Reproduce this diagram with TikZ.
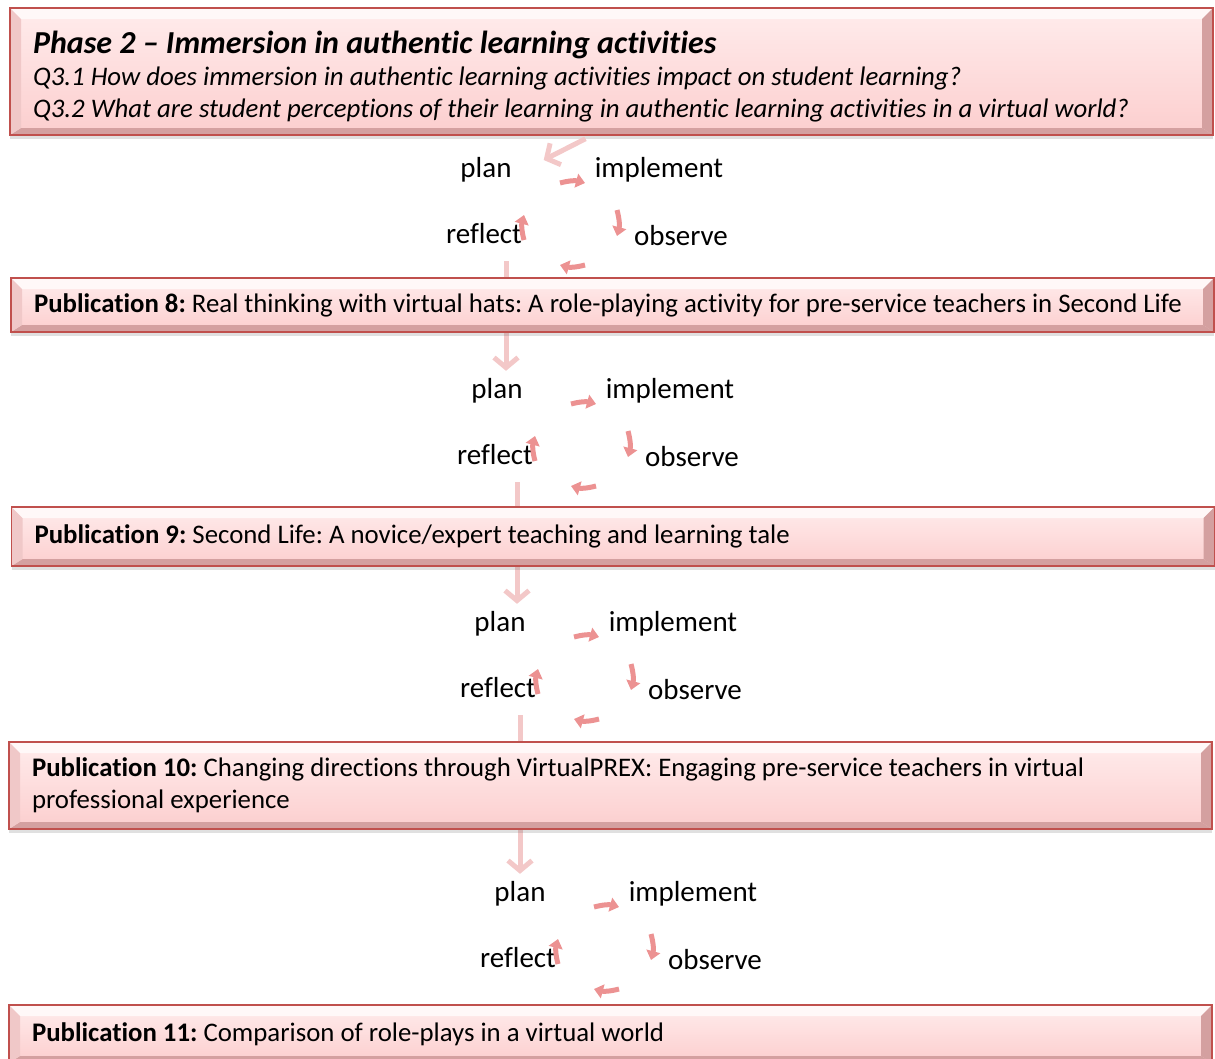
\documentclass[tikz,border=0pt]{standalone}
\usepackage{fontspec}
\setmainfont{Carlito}[Ligatures={TeX,NoCommon}]
\usetikzlibrary{arrows.meta,shadows,positioning}
\pgfdeclarelayer{bg}
\pgfsetlayers{bg,main}
\frenchspacing

\definecolor{boxred}{RGB}{192,80,77}
\definecolor{boxtop}{RGB}{255,236,236}
\definecolor{boxbot}{RGB}{252,206,206}
\definecolor{bevlight}{RGB}{255,248,248}
\definecolor{bevside}{RGB}{240,200,200}
\definecolor{bevdark}{RGB}{212,160,160}
\definecolor{flowpink}{RGB}{243,200,200}
\definecolor{cycpink}{RGB}{236,146,146}

\tikzset{
    pubbox/.style={draw=boxred, line width=1.5pt, top color=boxtop, bottom color=boxbot,
        text width=1157pt, inner xsep=23pt, align=flush left, font=\fontsize{26.8}{32}\selectfont,
        drop shadow={shadow xshift=0pt, shadow yshift=-4pt, opacity=.2, fill=black!60},
        path picture={
            \path (path picture bounding box.north west) coordinate (bnw)
                  (path picture bounding box.north east) coordinate (bne)
                  (path picture bounding box.south west) coordinate (bsw)
                  (path picture bounding box.south east) coordinate (bse);
            \fill[bevlight] (bnw) -- (bne) -- ([shift={(-11pt,-11pt)}]bne) -- ([shift={(11pt,-11pt)}]bnw) -- cycle;
            \fill[bevdark] (bsw) -- (bse) -- ([shift={(-11pt,7pt)}]bse) -- ([shift={(11pt,7pt)}]bsw) -- cycle;
            \fill[bevside] (bnw) -- ([shift={(11pt,-11pt)}]bnw) -- ([shift={(11pt,7pt)}]bsw) -- (bsw) -- cycle;
            \fill[bevdark] (bne) -- ([shift={(-11pt,-11pt)}]bne) -- ([shift={(-11pt,7pt)}]bse) -- (bse) -- cycle;
        }},
    cyclabel/.style={font=\fontsize{29}{34}\selectfont, inner sep=0pt, text height=20pt, text depth=6pt},
    cycarrow/.style={draw=cycpink, line width=5pt, -{Triangle[length=9pt,width=14pt]}},
    bigarrow/.style={draw=flowpink, line width=5pt, -{Straight Barb[length=10pt,width=24pt]}},
}

\begin{document}
\begin{tikzpicture}[x=1pt, y=-1pt]
    \useasboundingbox (0,0) rectangle (1215,1058);

    % the four plan / implement / observe / reflect cycles
    \foreach \n/\x/\y in {1/486/170, 2/497/391, 3/500/624, 4/520/894} {
        \node[cyclabel] (plan\n) at (\x,\y) {plan};
        \node[cyclabel] (impl\n) at ([xshift=173pt]plan\n.center) {implement};
        \node[cyclabel] (refl\n) at ([shift={(-2pt,-66pt)}]plan\n.center) {reflect};
        \node[cyclabel] (obs\n) at ([shift={(195pt,-68pt)}]plan\n.center) {observe};
        \draw[cycarrow] ([shift={(74pt,-13pt)}]plan\n.center) to[bend left=15] ([shift={(99pt,-13pt)}]plan\n.center);
        \draw[cycarrow] ([shift={(-42pt,-40pt)}]impl\n.center) to[bend left=15] ([shift={(-42pt,-66pt)}]impl\n.center);
        \draw[cycarrow] ([shift={(-96pt,-27pt)}]obs\n.center) to[bend left=15] ([shift={(-121pt,-27pt)}]obs\n.center);
        \draw[cycarrow] ([shift={(40pt,-4pt)}]refl\n.center) to[bend left=15] ([shift={(40pt,21pt)}]refl\n.center);
    }

    % links from one cycle to the next, behind the boxes
    \begin{pgfonlayer}{bg}
        \foreach \a/\b in {1/2, 2/3, 3/4} {
            \coordinate (s\a) at ([shift={(22pt,-25pt)}]refl\a.center);
            \draw[bigarrow, shorten >=7pt] (s\a) -- (s\a |- plan\b.north);
        }
    \end{pgfonlayer}

    \node[pubbox, minimum height=127pt] (head) at (611.5,71.5) {%
        {\fontsize{32}{36}\selectfont\bfseries\itshape\rule{0pt}{32pt}Phase 2 -- Immersion in authentic learning activities}\\
        \itshape Q3.1 How does immersion in authentic learning activities impact on student learning?\\
        \itshape Q3.2 What are student perceptions of their learning in authentic learning activities in a virtual world?};
    \node[pubbox, minimum height=54pt] (pub8) at (612.5,305) {\textbf{Publication 8:} Real thinking with virtual hats: A role-playing activity for pre-service teachers in Second Life};
    \node[pubbox, minimum height=59pt] (pub9) at (613,536.5) {\textbf{Publication 9:} Second Life: A novice/expert teaching and learning tale};
    \node[pubbox, minimum height=87pt] (pub10) at (610.5,785.5) {\textbf{Publication 10:} Changing directions through VirtualPREX: Engaging pre-service teachers in virtual\\professional experience};
    \node[pubbox, minimum height=58pt] (pub11) at (610.5,1034) {\textbf{Publication 11:} Comparison of role-plays in a virtual world};

    \draw[bigarrow] ([xshift=-26pt,yshift=-3pt]head.south) -- ([shift={(32pt,10pt)}]plan1.east);
\end{tikzpicture}
\end{document}
